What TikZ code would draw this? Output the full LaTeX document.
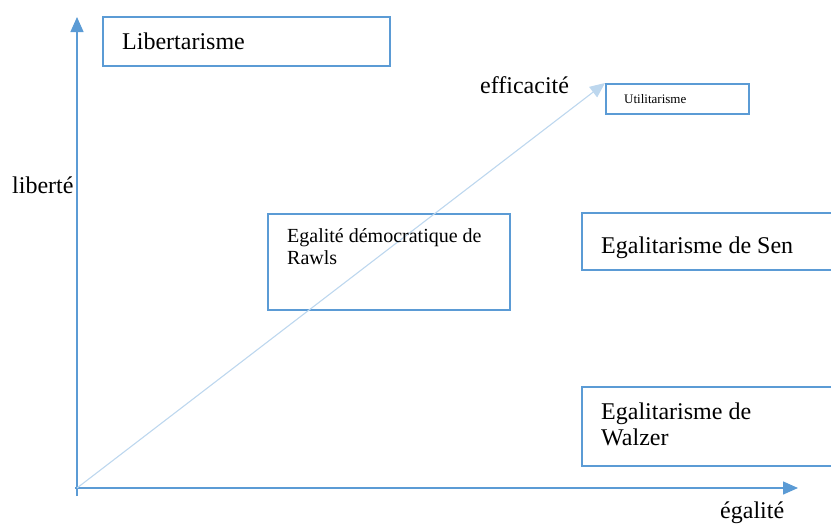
\documentclass[tikz,border=0pt]{standalone}
\usepackage{fontspec}
\setmainfont{Liberation Serif}
\usetikzlibrary{arrows.meta}
\definecolor{boxblue}{HTML}{5B9BD5}
\definecolor{diagblue}{HTML}{BDD7EE}
\tikzset{
  box/.style={draw=boxblue, line width=1.8pt, inner sep=0pt, anchor=north west},
  axis/.style={draw=boxblue, line width=1.4pt, -{Triangle[length=15pt,width=13pt]}},
  diag/.style={draw=diagblue, line width=1.1pt, -{Triangle[length=15pt,width=13pt]}},
  lbl/.style={inner sep=0pt, anchor=base west, font=\fontsize{24}{26}\selectfont},
}
\begin{document}
\begin{tikzpicture}[x=1pt,y=-1pt]
\useasboundingbox (0,0) rectangle (831,523);
% boxes
\node[box, minimum width=287pt, minimum height=49pt] (lib) at (102,16) {};
\node[box, minimum width=143pt, minimum height=30pt] (util) at (605,83) {};
\node[box, minimum width=242pt, minimum height=96pt] (rawls) at (267,213) {};
\node[box, minimum width=251pt, minimum height=57pt] (sen) at (581,212) {};
\node[box, minimum width=251pt, minimum height=79pt] (walzer) at (581,386) {};
% axes
\coordinate (O) at (77,488);
\coordinate (ybot) at (77,496);
\coordinate (ytop) at (77,17);
\coordinate (xbeg) at (75,488);
\coordinate (xend) at (798,488);
\draw[axis] (ybot) -- (ytop);
\draw[axis] (xbeg) -- (xend);
\draw[diag] (O) -- (util.north west);
% texts
\node[lbl] (tlib) at (122,49) {Libertarisme};
\node[lbl] (teff) at (480,93) {efficacité};
\node[lbl, font=\fontsize{13}{15}\selectfont] (tutil) at (624,103) {Utilitarisme};
\node[lbl, font=\fontsize{20}{22}\selectfont] (traw1) at (287,242) {Egalité démocratique de};
\node[lbl, font=\fontsize{20}{22}\selectfont] (traw2) at (287,264) {Rawls};
\node[lbl] (tsen) at (601,253) {Egalitarisme de Sen};
\node[lbl] (twal1) at (601,419) {Egalitarisme de};
\node[lbl] (twal2) at (601,445) {Walzer};
\node[lbl] (tlibte) at (12,193) {liberté};
\node[lbl] (tega) at (720,518) {égalité};
\end{tikzpicture}
\end{document}
